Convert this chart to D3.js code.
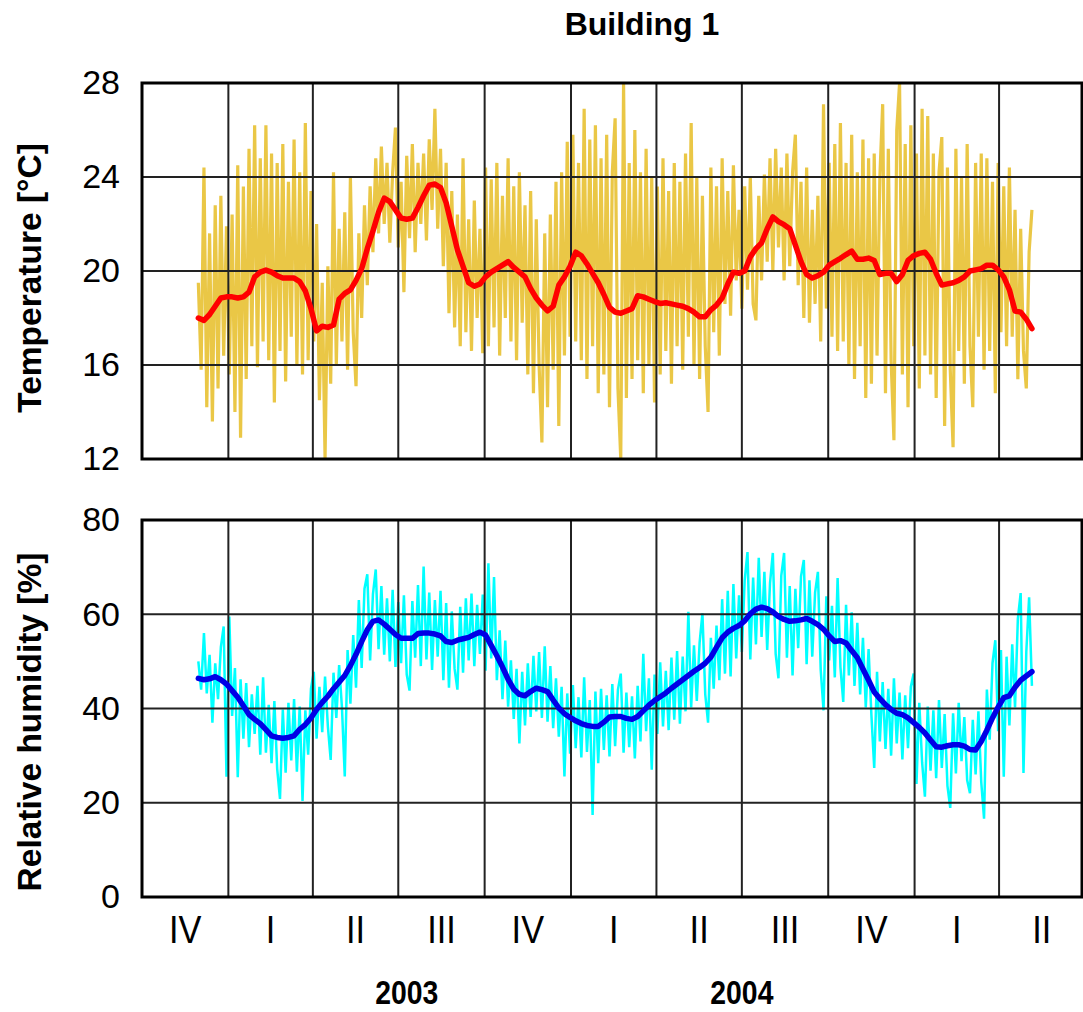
<!DOCTYPE html>
<html>
<head>
<meta charset="utf-8">
<script src="https://cdn.jsdelivr.net/npm/d3@7"></script>
<style>
  body { margin: 0; background: #fff; }
  text { font-family: "Liberation Sans", Arial, Helvetica, sans-serif; fill: #000; }
</style>
</head>
<body>
<svg id="chart" width="1083" height="1012"></svg>
<script>
// quarters shown on the x axis (start dates) and their labels
var quarterStarts = ['2002-10-01', '2003-01-01', '2003-04-01', '2003-07-01', '2003-10-01', '2004-01-01',
  '2004-04-01', '2004-07-01', '2004-10-01', '2005-01-01', '2005-04-01', '2005-07-01'];
var quarterLabels = ['IV', 'I', 'II', 'III', 'IV', 'I', 'II', 'III', 'IV', 'I', 'II'];
var yearLabels = ['2003', '2004'];
var yearMids = ['2003-07-10', '2004-07-01'];

var tempTicks = [12, 16, 20, 24, 28];
var humTicks = [0, 20, 40, 60, 80];

// daily records, sampled every 3 days from 30 Nov 2002
var rawStart = '2002-11-30';
var rawStepDays = 3;
// 30-day running mean, sampled every 6 days from the same start
var smoothStepDays = 6;

var tempRaw = [
  19.5, 15.8, 24.4, 14.2, 21.6, 13.6, 22.8, 15.0, 23.2, 16.4, 21.9,
  15.6, 22.4, 14.0, 24.5, 12.9, 23.6, 15.4, 25.2, 16.8, 26.2, 15.9, 24.8, 17.0, 26.2, 16.2, 25.0, 14.4, 24.6, 16.6,
  25.4, 15.3, 23.8, 17.2, 25.6, 16.0, 24.2, 15.6, 26.3, 16.2, 23.4,
  17.0, 22.0, 14.5, 19.5, 12.0, 20.2, 15.2, 24.2, 16.0, 21.8, 17.0, 22.5, 15.8, 24.0, 17.4, 15.1, 21.6, 18.0, 22.8,
  19.4, 23.6, 20.8, 24.8, 21.6, 25.3, 22.0, 24.6, 21.2, 24.2, 26.1, 21.0,
  23.8, 19.1, 24.9, 21.4, 25.4, 20.8, 24.6, 22.0, 25.0, 21.3, 25.6, 22.6, 26.9, 21.8, 25.2, 20.2, 24.6, 18.2, 23.4,
  17.6, 22.4, 16.8, 24.8, 17.4, 22.2, 16.6, 23.0, 18.0, 21.8, 16.5,
  24.4, 16.8, 23.9, 17.6, 24.6, 16.4, 23.2, 18.0, 24.8, 17.0, 23.6, 16.2, 24.2, 17.8, 22.8, 15.6, 23.4, 14.8, 22.2,
  16.0, 12.7, 21.6, 14.2, 22.4, 15.8, 23.8, 13.4, 24.2, 16.4, 25.5, 17.2,
  25.8, 17.0, 24.6, 16.2, 26.9, 15.4, 25.6, 16.8, 26.2, 14.8, 24.8, 15.6, 25.8, 14.2, 24.2, 26.5, 15.0, 12.0, 28.0,
  14.6, 24.6, 15.4, 26.0, 16.2, 24.2, 14.8, 25.2, 16.0, 24.0, 14.4,
  23.6, 15.6, 24.8, 16.6, 23.4, 15.2, 24.6, 16.8, 23.8, 15.8, 25.0, 17.2, 26.3, 16.0, 24.0, 15.4, 23.2, 16.8, 14.0,
  24.4, 17.4, 23.6, 16.4, 24.8, 18.6, 23.4, 18.1, 24.5, 19.6, 22.6, 18.4,
  23.6, 19.2, 24.0, 18.6, 17.9, 23.2, 19.6, 24.1, 20.4, 24.8, 20.0, 25.2, 21.0, 24.4, 19.6, 25.0, 20.2, 24.2, 25.8,
  19.4, 23.8, 18.0, 24.4, 17.8, 22.6, 18.6, 23.2, 17.0, 27.1, 18.4, 24.6,
  17.2, 25.4, 16.6, 26.3, 17.0, 24.6, 16.0, 25.8, 15.4, 24.2, 16.8, 25.6, 14.6, 24.8, 15.2, 25.0, 16.4, 24.0, 27.1,
  14.8, 25.2, 16.2, 12.8, 26.0, 28.0, 15.6, 25.4, 14.2, 26.2, 16.8, 25.0,
  15.0, 26.9, 16.4, 26.6, 15.6, 25.0, 14.6, 24.2, 25.7, 13.4, 24.4, 15.8, 12.5, 25.2, 16.6, 24.0, 15.2, 25.4, 16.8,
  14.2, 24.6, 17.2, 25.0, 15.8, 24.8, 16.6, 23.8, 14.8, 24.6, 17.4,
  23.6, 16.8, 24.4, 17.2, 22.6, 15.4, 21.8, 16.6, 15.0, 20.8, 22.6
];

var tempSmooth = [
  18.0, 17.9, 18.15, 18.5, 18.85, 18.9, 18.9, 18.85, 18.9, 19.1, 19.75, 19.95, 20.04, 19.95, 19.8, 19.7, 19.7, 19.7,
  19.55, 19.15, 18.4, 17.45, 17.65, 17.6, 17.7, 18.8, 19.05, 19.2, 19.6, 20.1, 20.95, 21.7, 22.5, 23.1, 22.95, 22.6,
  22.25, 22.2, 22.25, 22.7, 23.2, 23.65, 23.7, 23.55, 22.9, 21.9, 20.9, 20.2, 19.5, 19.35, 19.45, 19.75, 19.95, 20.1,
  20.25, 20.4, 20.15, 19.95, 19.75, 19.25, 18.85, 18.55, 18.3, 18.5, 19.4, 19.75, 20.2, 20.8, 20.65, 20.3, 19.9, 19.5,
  19.0, 18.45, 18.25, 18.2, 18.3, 18.4, 18.95, 18.9, 18.8, 18.7, 18.62, 18.65, 18.6, 18.55, 18.5, 18.4, 18.25, 18.05,
  18.05, 18.35, 18.55, 18.85, 19.45, 19.95, 19.9, 20.0, 20.6, 20.95, 21.2, 21.8, 22.3, 22.1, 21.97, 21.8, 21.1, 20.4,
  19.85, 19.7, 19.8, 19.95, 20.25, 20.4, 20.54, 20.7, 20.85, 20.5, 20.5, 20.55, 20.45, 19.85, 19.9, 19.9, 19.55, 19.85,
  20.45, 20.65, 20.75, 20.8, 20.5, 19.9, 19.4, 19.45, 19.5, 19.6, 19.75, 20.0, 20.05, 20.1, 20.25, 20.25, 20.05, 19.75,
  19.2, 18.3, 18.25, 17.95, 17.55
];

var humRaw = [
  50.0, 44.0, 56.0, 43.2, 51.4, 37.0, 49.6, 42.0, 53.0, 57.4, 25.5,
  59.5, 38.4, 48.6, 25.4, 46.2, 33.6, 45.4, 31.8, 43.0, 34.6, 44.8, 30.2,
  46.6, 30.6, 40.8, 28.4, 41.6, 27.2, 20.8, 39.8, 26.4, 41.2, 29.0, 42.0, 26.6, 40.4, 20.4, 39.6, 30.2,
  44.2, 47.8, 33.6, 44.6, 35.0, 46.8, 36.2, 29.1, 47.6, 38.0, 49.2, 40.2, 25.6, 52.4, 41.0,
  55.6, 44.4, 63.0, 48.6, 65.4, 68.5, 50.2, 64.2, 69.5, 52.6,
  66.0, 51.4, 63.4, 50.0, 65.2, 48.8, 62.6, 49.6, 64.0, 47.2, 43.8, 62.8, 50.8, 66.2, 49.0, 70.1, 50.4, 64.6, 48.2,
  63.0, 51.0, 65.0, 46.0, 62.4, 44.4, 60.6, 48.4, 44.0, 61.6, 47.6, 63.4, 50.2, 64.4, 49.0, 62.0, 51.6, 64.2,
  48.0, 70.8, 50.6, 67.9, 46.0, 56.6,
  42.0, 54.4, 40.4, 50.2, 37.8, 48.4, 32.6, 47.8, 36.4, 49.6, 38.2, 51.2, 39.4, 52.0, 38.0, 53.2, 37.2, 49.0, 35.8,
  46.4, 34.0,
  44.6, 25.6, 43.2, 30.4, 45.0, 31.6, 42.4, 29.6, 46.6, 30.8, 41.8, 17.4, 43.6, 28.4, 44.2, 31.2, 42.8, 29.8, 45.2,
  32.0, 44.0, 47.4, 30.6, 43.4, 31.8, 42.6, 29.4, 44.8, 33.0,
  51.6, 35.2, 46.4, 27.0, 47.2, 34.6, 49.8, 36.2, 48.0, 35.4, 50.8, 37.6, 52.2, 36.8, 51.0, 39.4, 60.5, 40.2, 53.4,
  41.6, 54.0, 60.2, 43.0, 37.0, 55.0, 44.2, 57.6, 46.0,
  63.2, 47.4, 65.0, 46.8, 66.4, 50.6, 64.0, 52.0, 67.2, 73.2, 50.4, 67.8, 53.6,
  72.0, 55.2, 69.0, 52.4, 66.6, 73.0, 51.6, 46.4, 68.2, 73.0, 50.8, 66.0, 47.0,
  65.4, 52.8, 68.0, 71.5, 49.4, 67.2, 51.0, 64.6, 69.0, 48.2, 39.6, 63.8, 50.2,
  61.8, 46.6, 67.7, 48.8, 41.4, 62.0, 47.0, 60.4, 44.8, 58.2, 43.0, 55.0, 40.2, 52.6,
  38.6, 27.4, 47.8, 33.0, 45.6, 31.4, 44.2, 30.0, 46.4, 32.6, 43.4,
  29.2, 42.8, 31.6, 44.6, 47.4, 24.0, 41.2, 28.6, 21.3, 40.4, 26.8, 39.6, 25.2, 41.8, 27.4, 38.8, 23.6, 18.9,
  39.0, 26.2, 41.2, 28.8, 38.2, 24.8, 22.0, 37.6, 26.0, 39.4, 24.4, 16.6, 44.0,
  33.4, 49.6, 54.5, 35.2, 52.4, 25.5, 51.0, 36.4,
  53.6, 40.2, 59.0, 64.5, 26.3, 52.0, 63.6, 44.8
];

var humSmooth = [
  46.4, 46.1, 46.3, 46.75, 46.1, 45.2, 43.8, 42.4, 40.6, 38.7, 37.7, 36.8, 35.5, 34.2, 33.85, 33.7, 33.85, 34.2,
  35.6, 36.6, 38.0, 39.8, 41.3, 42.6, 44.2, 45.6, 47.0, 49.1, 51.5, 54.2, 56.7, 58.5, 58.8, 57.9, 56.8, 55.7,
  54.9, 54.9, 54.9, 55.9, 56.0, 56.0, 55.8, 55.4, 54.2, 54.0, 54.5, 54.8, 55.1, 55.7, 56.2, 55.6, 53.4, 51.2,
  48.8, 46.2, 44.1, 43.0, 42.7, 43.6, 44.3, 44.0, 43.6, 41.8, 40.1, 38.9, 38.1, 37.4, 36.8, 36.4, 36.2, 36.2,
  37.1, 38.2, 38.3, 38.3, 37.9, 37.7, 38.3, 39.5, 40.7, 41.7, 42.5, 43.3, 44.3, 45.2, 46.1, 47.0, 47.9, 48.7,
  49.6, 50.9, 53.0, 55.0, 56.2, 57.0, 57.6, 58.6, 60.1, 61.1, 61.5, 61.2, 60.5, 59.5, 58.9, 58.5, 58.6, 58.8,
  59.1, 58.5, 57.8, 56.8, 55.4, 54.2, 54.4, 53.9, 52.3, 50.8, 48.4, 46.0, 43.5, 42.1, 40.8, 39.8, 39.0, 38.7,
  38.0, 37.0, 36.0, 34.8, 33.3, 31.9, 31.8, 32.1, 32.3, 32.3, 32.0, 31.3, 31.2, 33.0, 35.4, 38.0, 40.3, 42.3,
  42.7, 44.5, 46.0, 46.9, 47.8
];

var left = 142;
var frameRight = 1082;

var svg = d3.select('#chart');
var parse = d3.utcParse('%Y-%m-%d');
var qDates = quarterStarts.map(parse);
var start = parse(rawStart);

var x = d3.scaleUtc()
    .domain([qDates[0], qDates[qDates.length - 1]])
    .range([left, 1084.5]);

function dayX(step) {
  return function(d, i) { return x(d3.utcDay.offset(start, i * step)); };
}

var panels = [
  {
    raw: tempRaw, smooth: tempSmooth, ticks: tempTicks,
    y: d3.scaleLinear().domain([12, 28]).range([459, 83]),
    rawColor: '#eac746', rawWidth: 3.2, smoothColor: '#ff0000',
    title: 'Temperature [°C]', titleY: 278
  },
  {
    raw: humRaw, smooth: humSmooth, ticks: humTicks,
    y: d3.scaleLinear().domain([0, 80]).range([897, 520]),
    rawColor: '#00ffff', rawWidth: 2.5, smoothColor: '#0000e6',
    title: 'Relative humidity [%]', titleY: 722
  }
];

panels.forEach(function(p) {
  var y = p.y;
  var top = y.range()[1];
  var bottom = y.range()[0];
  var g = svg.append('g');

  // daily values
  g.append('path')
      .datum(p.raw)
      .attr('fill', 'none')
      .attr('stroke', p.rawColor)
      .attr('stroke-width', p.rawWidth)
      .attr('stroke-linejoin', 'bevel')
      .attr('d', d3.line().x(dayX(rawStepDays)).y(function(d) { return y(d); }));

  // grid
  g.selectAll('.hgrid')
    .data(p.ticks)
    .enter().append('line')
      .attr('x1', left).attr('x2', frameRight)
      .attr('y1', function(d) { return y(d); })
      .attr('y2', function(d) { return y(d); })
      .attr('stroke', '#222')
      .attr('stroke-width', 2);

  g.selectAll('.vgrid')
    .data(qDates.slice(1, -1))
    .enter().append('line')
      .attr('x1', function(d) { return x(d); })
      .attr('x2', function(d) { return x(d); })
      .attr('y1', top).attr('y2', bottom)
      .attr('stroke', '#222')
      .attr('stroke-width', 2);

  // running mean
  g.append('path')
      .datum(p.smooth)
      .attr('fill', 'none')
      .attr('stroke', p.smoothColor)
      .attr('stroke-width', 5.5)
      .attr('stroke-linejoin', 'round')
      .attr('stroke-linecap', 'round')
      .attr('d', d3.line().x(dayX(smoothStepDays)).y(function(d) { return y(d); }));

  // frame
  g.append('rect')
      .attr('x', left).attr('y', top)
      .attr('width', frameRight - left)
      .attr('height', bottom - top)
      .attr('fill', 'none')
      .attr('stroke', '#000')
      .attr('stroke-width', 3);

  // y axis labels
  var axis = d3.axisLeft(y).tickValues(p.ticks).tickSize(0).tickPadding(22);
  var ax = g.append('g')
      .attr('transform', 'translate(' + left + ',0)')
      .call(axis);
  ax.select('.domain').remove();
  ax.selectAll('text')
      .attr('font-family', '"Liberation Sans", Arial, sans-serif')
      .attr('font-size', 34)
      .attr('fill', '#000');

  g.append('text')
      .attr('transform', 'translate(41,' + p.titleY + ') rotate(-90)')
      .attr('text-anchor', 'middle')
      .attr('font-size', 33.5)
      .attr('font-weight', 'bold')
      .text(p.title);
});

// quarter labels
svg.selectAll('.qlabel')
  .data(quarterLabels)
  .enter().append('text')
    .attr('transform', function(d, i) {
      return 'translate(' + (x(qDates[i]) + x(qDates[i + 1])) / 2 + ',943) scale(0.88,1)';
    })
    .attr('text-anchor', 'middle')
    .attr('font-size', 39)
    .text(function(d) { return d; });

svg.selectAll('.ylabel')
  .data(yearLabels)
  .enter().append('text')
    .attr('transform', function(d, i) {
      return 'translate(' + x(parse(yearMids[i])) + ',1004) scale(0.86,1)';
    })
    .attr('text-anchor', 'middle')
    .attr('font-size', 33)
    .attr('font-weight', 'bold')
    .text(function(d) { return d; });

svg.append('text')
    .attr('x', 642)
    .attr('y', 35)
    .attr('text-anchor', 'middle')
    .attr('font-size', 32)
    .attr('font-weight', 'bold')
    .text('Building 1');
</script>
</body>
</html>
